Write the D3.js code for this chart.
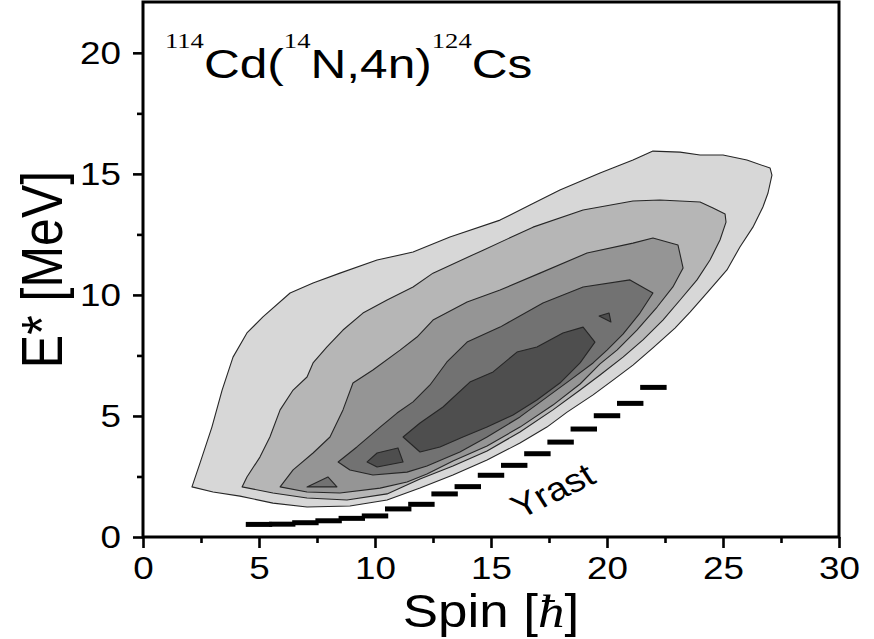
<!DOCTYPE html>
<html>
<head>
<meta charset="utf-8">
<script src="https://cdn.jsdelivr.net/npm/d3@7"></script>
<style>
  html, body { margin: 0; padding: 0; background: #ffffff; }
  svg { display: block; }
</style>
</head>
<body>
<svg id="chart" width="874" height="639"></svg>
<script>
// ---------------- data ----------------
const spinTicks = [0, 5, 10, 15, 20, 25, 30];
const spinMinorTicks = [2.5, 7.5, 12.5, 17.5, 22.5, 27.5];
const energyTicks = [0, 5, 10, 15, 20];
const energyMinorTicks = [2.5, 7.5, 12.5, 17.5];

const yrastSpin   = [5, 6, 7, 8, 9, 10, 11, 12, 13, 14, 15, 16, 17, 18, 19, 20, 21, 22];
const yrastEnergy = [0.52, 0.53, 0.59, 0.67, 0.77, 0.87, 1.16, 1.35, 1.78, 2.08, 2.55, 2.96, 3.44, 3.92, 4.46, 5.01, 5.52, 6.18];

// contour levels, [spin, E*] vertices, lightest (1) to darkest (5)
const level1 = [[2.11,2.07],[2.46,3.06],[2.97,4.54],[3.41,6.07],[3.88,7.43],[4.48,8.43],[5.17,9.09],[6.34,10.08],[7.33,10.49],[8.49,10.9],[10.09,11.44],[11.64,11.77],[13.23,12.39],[15.39,13.09],[16.68,13.71],[17.97,14.33],[19.7,15.04],[21.12,15.57],[21.98,15.94],[23.15,15.9],[24.01,15.78],[25.0,15.78],[26.03,15.57],[27.03,15.24],[27.11,14.95],[26.94,14.21],[26.72,13.63],[26.29,12.8],[25.73,11.98],[25.17,11.03],[24.31,10.08],[23.58,9.29],[22.93,8.63],[21.98,7.81],[21.12,7.1],[20.26,6.48],[19.4,5.87],[18.28,5.16],[17.41,4.54],[16.25,3.88],[14.83,3.18],[13.36,2.56],[11.94,2.02],[10.52,1.53],[8.92,1.28],[7.07,1.24],[5.6,1.4],[4.18,1.69],[3.02,1.86]];
const level2 = [[4.27,2.07],[4.48,2.48],[5.04,3.3],[5.47,4.13],[5.91,5.25],[6.47,6.07],[7.07,6.61],[7.33,7.19],[7.93,7.85],[8.62,8.55],[9.48,9.25],[10.52,9.79],[11.64,10.33],[12.5,10.9],[14.66,11.85],[16.81,12.8],[18.97,13.51],[21.12,13.88],[22.28,13.92],[24.01,13.84],[24.57,13.59],[25.09,13.34],[25.13,13.01],[24.87,12.27],[24.44,11.44],[23.88,10.62],[23.15,9.79],[22.41,8.96],[21.55,8.14],[20.69,7.43],[19.7,6.69],[18.84,6.07],[17.67,5.25],[16.25,4.34],[14.83,3.55],[13.36,2.93],[11.94,2.4],[10.52,1.78],[8.79,1.53],[7.07,1.61],[5.6,1.82]];
const level3 = [[5.91,2.07],[6.47,2.77],[7.33,3.47],[8.06,4.13],[8.62,5.25],[9.05,6.36],[9.91,6.9],[11.08,7.72],[11.81,8.26],[12.5,8.96],[13.97,9.71],[15.39,10.2],[17.11,10.9],[19.14,11.73],[21.12,12.14],[21.98,12.35],[23.06,12.06],[23.28,11.11],[22.84,10.33],[22.16,9.5],[21.29,8.55],[20.43,7.72],[19.7,7.15],[18.84,6.32],[17.67,5.45],[16.25,4.54],[14.83,3.76],[13.36,3.14],[12.24,2.6],[11.38,2.27],[10.22,2.02],[8.49,1.82],[7.07,1.86]];
const level4Main = [[8.41,3.1],[9.22,3.72],[10.22,4.54],[10.95,5.12],[11.64,5.58],[12.37,6.28],[13.1,7.23],[13.97,8.05],[15.39,8.67],[17.24,9.67],[18.97,10.33],[20.99,10.62],[21.98,10.08],[21.42,9.25],[20.69,8.38],[20.0,7.72],[19.4,7.19],[18.41,6.48],[17.41,5.78],[16.25,4.96],[14.83,4.13],[13.66,3.51],[12.24,2.93],[11.38,2.68],[9.91,2.56],[8.92,2.77]];
const level4Island = [[7.07,2.07],[7.97,2.48],[8.36,2.07]];
const level5Main = [[11.21,4.13],[11.94,4.71],[12.93,5.37],[14.09,6.4],[15.09,6.82],[16.12,7.64],[16.98,7.85],[18.1,8.43],[18.97,8.67],[19.48,8.05],[18.84,7.19],[17.97,6.36],[16.98,5.66],[15.95,5.04],[14.83,4.54],[13.79,4.13],[12.8,3.72],[11.94,3.51]];
const level5Island = [[9.66,3.1],[10.09,3.47],[10.99,3.68],[11.21,3.1],[10.09,2.89]];
const level5Spot = [[19.66,9.13],[20.09,9.25],[20.17,8.88]];

const contourShapes = [
  { level: 1, pts: level1 },
  { level: 2, pts: level2 },
  { level: 3, pts: level3 },
  { level: 4, pts: level4Main },
  { level: 4, pts: level4Island },
  { level: 5, pts: level5Island },
  { level: 5, pts: level5Main },
  { level: 5, pts: level5Spot }
];
const levelColors = ["#d7d7d7", "#b6b6b6", "#959595", "#727272", "#4e4e4e"];

const titleParts = [
  { t: "114", sup: true }, { t: "Cd(", sup: false },
  { t: "14", sup: true }, { t: "N,4n)", sup: false },
  { t: "124", sup: true }, { t: "Cs", sup: false }
];

// ---------------- drawing ----------------
const SX = 1.15; // horizontal stretch of the original figure's lettering
const SANS = "'Liberation Sans', Arial, Helvetica, sans-serif";
const SERIF = "'Liberation Serif', 'Times New Roman', serif";

const svg = d3.select("#chart");
const x = d3.scaleLinear().domain([0, 30]).range([143, 839]);
const y = d3.scaleLinear().domain([0, 22.1]).range([537, 2]);

// contours
const line = d3.line().x(d => x(d[0])).y(d => y(d[1])).curve(d3.curveLinearClosed);
svg.append("g").selectAll("path")
  .data(contourShapes)
  .join("path")
  .attr("d", d => line(d.pts))
  .attr("fill", d => levelColors[d.level - 1])
  .attr("stroke", "#262626")
  .attr("stroke-width", 1.1)
  .attr("stroke-linejoin", "round");

// yrast bars
const yrast = yrastSpin.map((s, i) => ({ s, e: yrastEnergy[i] }));
svg.append("g").selectAll("line")
  .data(yrast)
  .join("line")
  .attr("x1", d => x(d.s - 0.57))
  .attr("x2", d => x(d.s + 0.57))
  .attr("y1", d => y(d.e))
  .attr("y2", d => y(d.e))
  .attr("stroke", "#000")
  .attr("stroke-width", 5);

svg.append("g")
  .attr("transform", `translate(${x(17.65)},${y(1.92)}) scale(${SX},1) rotate(-29)`)
  .append("text")
  .attr("text-anchor", "middle")
  .attr("dy", "0.35em")
  .attr("font-family", SANS)
  .attr("font-size", 33)
  .attr("fill", "#000")
  .text("Yrast");

// axes
function stretchLabels(g) {
  g.selectAll(".tick text").each(function () {
    const t = d3.select(this);
    const tx = +t.attr("x") || 0, ty = +t.attr("y") || 0;
    t.attr("x", 0).attr("y", 0).attr("transform", `translate(${tx},${ty}) scale(${SX},1)`);
  });
}
function styleAxis(g) {
  g.select(".domain").remove();
  g.selectAll(".tick line").attr("stroke", "#000").attr("stroke-width", 2.6);
  g.selectAll(".tick text").attr("font-family", SANS).attr("font-size", 32).attr("fill", "#000");
}

const gx = svg.append("g").attr("transform", `translate(0,${y(0)})`)
  .call(d3.axisBottom(x).tickValues(spinTicks).tickSize(11).tickPadding(8).tickFormat(d3.format("d")));
styleAxis(gx); stretchLabels(gx);
const gxm = svg.append("g").attr("transform", `translate(0,${y(0)})`)
  .call(d3.axisBottom(x).tickValues(spinMinorTicks).tickSize(6).tickFormat(""));
styleAxis(gxm);

const gy = svg.append("g").attr("transform", `translate(${x(0)},0)`)
  .call(d3.axisLeft(y).tickValues(energyTicks).tickSize(10).tickPadding(12).tickFormat(d3.format("d")));
styleAxis(gy); stretchLabels(gy);
const gym = svg.append("g").attr("transform", `translate(${x(0)},0)`)
  .call(d3.axisLeft(y).tickValues(energyMinorTicks).tickSize(6).tickFormat(""));
styleAxis(gym);

// frame
svg.append("rect")
  .attr("x", x(0)).attr("y", y(22.1))
  .attr("width", x(30) - x(0)).attr("height", y(0) - y(22.1))
  .attr("fill", "none").attr("stroke", "#000").attr("stroke-width", 3);

// axis titles
const xt = svg.append("g").attr("transform", `translate(${(x(0) + x(30)) / 2},627) scale(${SX},1)`)
  .append("text").attr("text-anchor", "middle")
  .attr("font-family", SANS).attr("font-size", 46).attr("fill", "#000");
xt.append("tspan").text("Spin [");
xt.append("tspan").attr("font-family", SERIF).attr("font-style", "italic").text("ħ");
xt.append("tspan").text("]");

svg.append("g").attr("transform", `translate(62,${(y(0) + y(22.1)) / 2}) scale(${SX},1) rotate(-90)`)
  .append("text").attr("text-anchor", "middle")
  .attr("font-family", SANS).attr("font-size", 50).attr("fill", "#000")
  .text("E* [MeV]");

// reaction title
const tt = svg.append("g").attr("transform", `translate(165,78) scale(1.21,1)`)
  .append("text").attr("x", 0).attr("y", 0).attr("fill", "#000");
let prevSup = false;
titleParts.forEach(p => {
  const dy = p.sup === prevSup ? 0 : (p.sup ? -30 : 30);
  tt.append("tspan")
    .attr("dy", dy)
    .attr("font-family", p.sup ? SERIF : SANS)
    .attr("font-size", p.sup ? 22 : 41)
    .text(p.t);
  prevSup = p.sup;
});
</script>
</body>
</html>
